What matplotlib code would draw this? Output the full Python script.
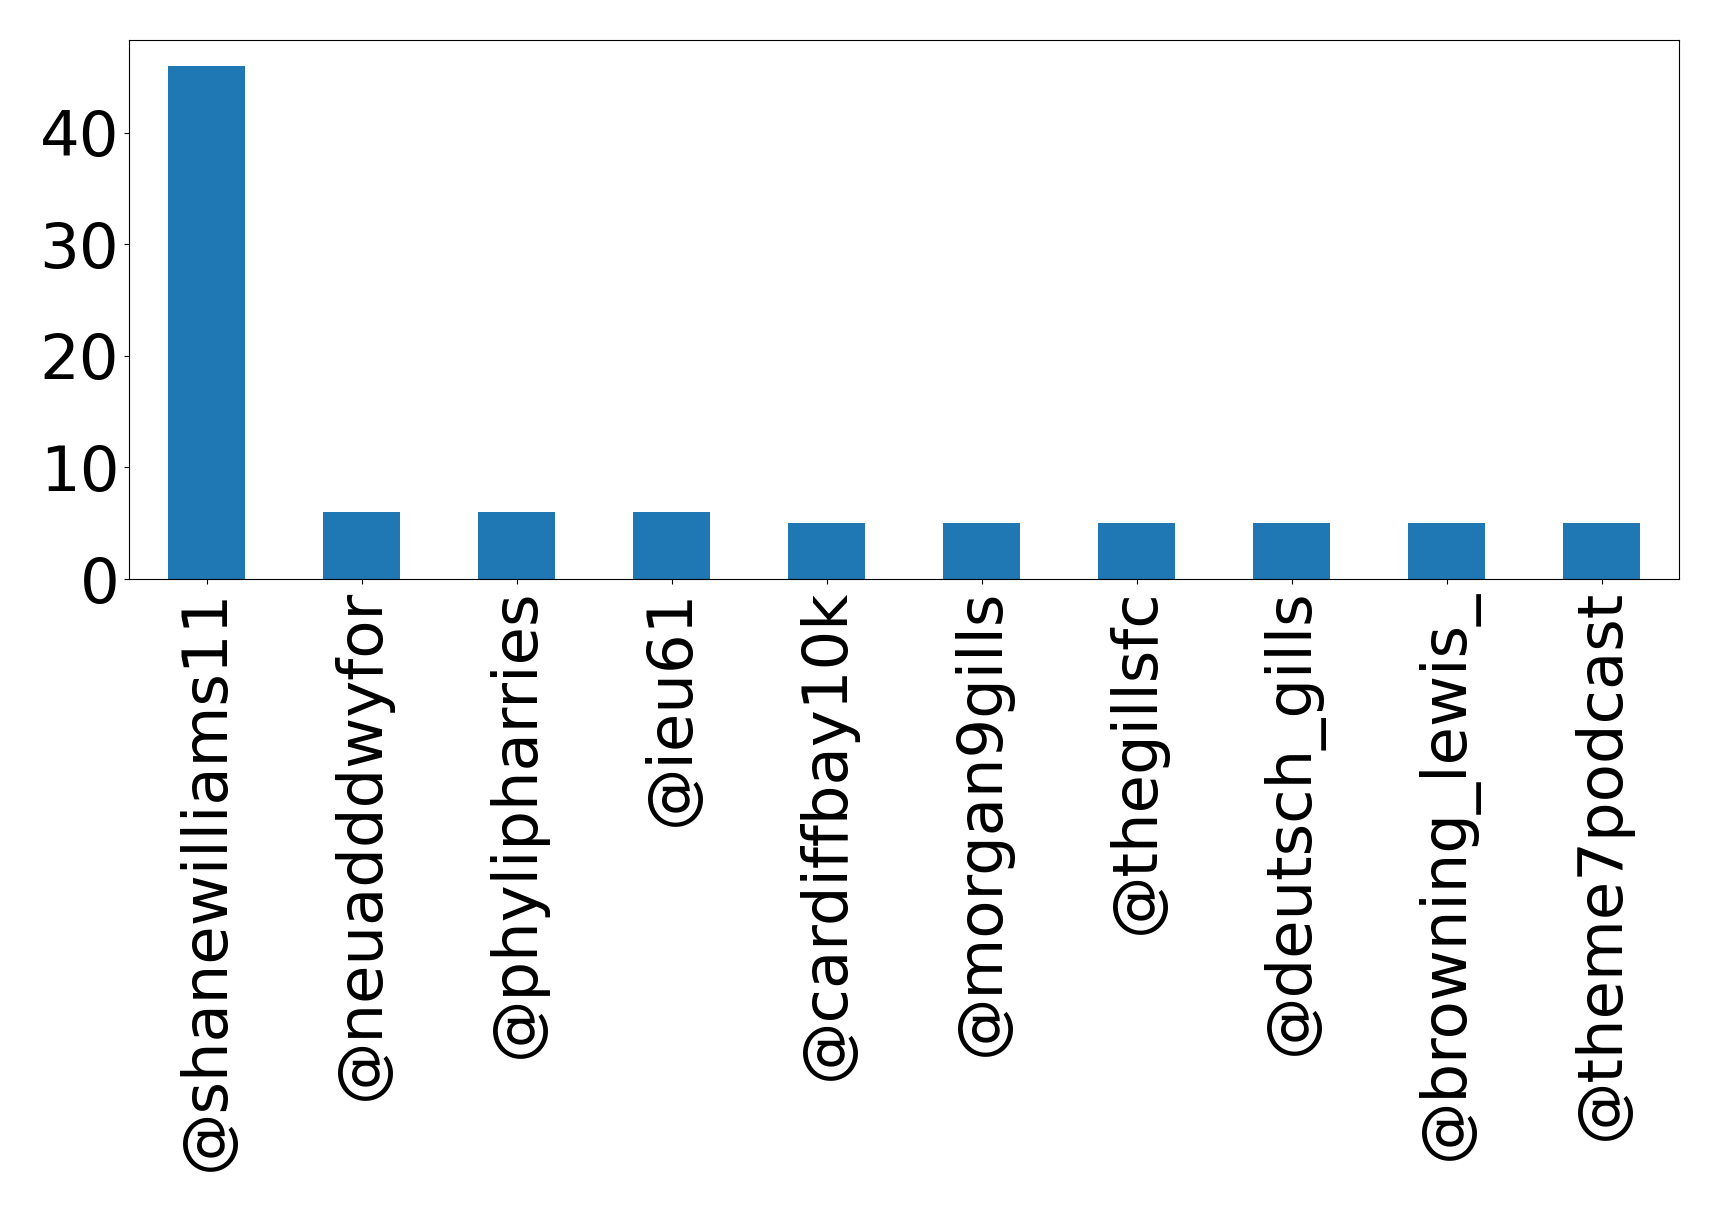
import matplotlib
matplotlib.use("Agg")
import matplotlib.pyplot as plt

users = ["@shanewilliams11", "@neuadddwyfor", "@phylipharries", "@ieu61",
         "@cardiffbay10k", "@morgan9gills", "@thegillsfc", "@deutsch_gills",
         "@browning_lewis_", "@theme7podcast"]
counts = [46, 6, 6, 6, 5, 5, 5, 5, 5, 5]

fig = plt.figure(figsize=(17.19, 12.11), dpi=100)
ax = fig.add_axes([129/1719, 1 - 579/1211, (1679 - 129)/1719, (579 - 40)/1211])
x = list(range(len(users)))
ax.bar(x, counts, width=0.5, color="#1f77b4")
ax.set_xlim(-0.5, len(users) - 0.5)
ax.set_xticks(x)
ax.set_xticklabels(users, rotation=90, fontsize=45)
ax.set_yticks([0, 10, 20, 30, 40])
ax.tick_params(axis="y", labelsize=45)
fig.savefig("out.png", dpi=100)
